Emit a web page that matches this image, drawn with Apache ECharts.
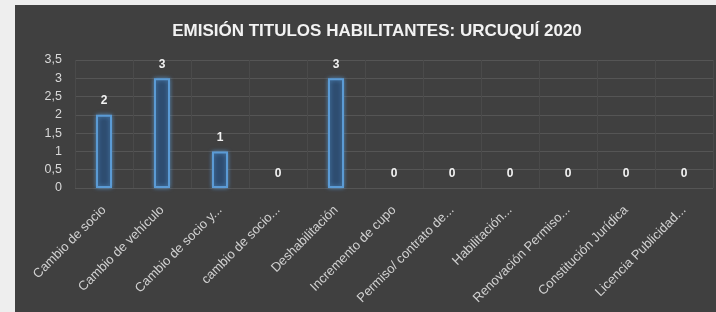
<!DOCTYPE html>
<html><head><meta charset="utf-8">
<script src="https://cdn.jsdelivr.net/npm/echarts@6/dist/echarts.min.js"></script>
<style>
html,body{margin:0;padding:0;background:#eeeeee;}
#bg{position:absolute;left:15px;top:5px;width:701px;height:307px;background:#404040;}
#c{position:absolute;left:0;top:0;width:716px;height:312px;}
</style></head><body>
<div id="bg"></div>
<div id="c"></div>
<script>
const titleText = 'EMISIÓN TITULOS HABILITANTES: URCUQUÍ 2020';
const categories = ['Cambio de socio','Cambio de vehículo','Cambio de socio y...','cambio de socio...','Deshabilitación','Incremento de cupo','Permiso/ contrato de...','Habilitación...','Renovación Permiso...','Constitución Jurídica','Licencia Publicidad...'];
const values = [2,3,1,0,3,0,0,0,0,0,0];
const yTicks = {min:0,max:3.5,interval:0.5};

const barData = values.map(v => v === 0 ? {value:v, itemStyle:{borderWidth:0, shadowBlur:0, opacity:0}} : v);

const chart = echarts.init(document.getElementById('c'), null, {renderer:'canvas'});
chart.setOption({
  backgroundColor:'transparent',
  animation:false,
  title:{text:titleText,left:372,top:18,textAlign:'center',
    textStyle:{color:'#f2f2f2',fontSize:17,fontWeight:'bold',fontFamily:'Liberation Sans, sans-serif'}},
  grid:{left:75,right:3,top:60,bottom:124,containLabel:false},
  xAxis:{type:'category',data:categories,
    axisLine:{show:false},axisTick:{show:false},
    axisLabel:{rotate:45,interval:0,color:'#d0d0d0',fontSize:13,margin:20,fontFamily:'Liberation Sans, sans-serif'},
    splitLine:{show:true,lineStyle:{color:'#4a4a4a',width:1}}},
  yAxis:{type:'value',min:yTicks.min,max:yTicks.max,interval:yTicks.interval,
    axisLine:{show:false},axisTick:{show:false},
    axisLabel:{color:'#d9d9d9',fontSize:12.5,margin:13,formatter:v=>String(v).replace('.',','),fontFamily:'Liberation Sans, sans-serif'},
    splitLine:{lineStyle:{color:'#555555',width:1}}},
  series:[{type:'bar',data:barData,barWidth:16,
    itemStyle:{color:'#2e4d70',borderColor:'#5b9bd5',borderWidth:2,shadowColor:'rgba(91,155,213,0.7)',shadowBlur:4},
    label:{show:true,position:'top',distance:8,color:'#f2f2f2',fontSize:12,fontWeight:'bold',fontFamily:'Liberation Sans, sans-serif',opacity:1}}]
});
</script>
</body></html>
